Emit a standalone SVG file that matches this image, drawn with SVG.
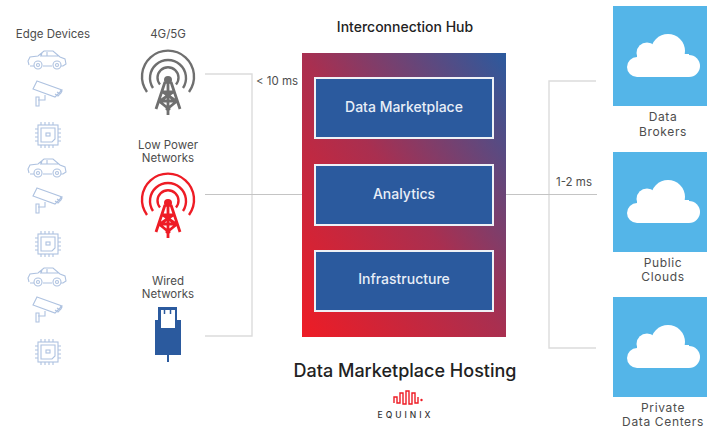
<svg xmlns="http://www.w3.org/2000/svg" width="707" height="430" viewBox="0 0 707 430">
<style>
text{font-family:"Inter","Liberation Sans",sans-serif;text-anchor:middle;fill:#4d4d4d;font-size:11.500px}
.r{font-size:12px;letter-spacing:.65px}
.w{fill:#e8eef7;font-size:14px;font-weight:500}
.c{fill:none;stroke:#dcdcdc;stroke-width:1.4}
.m{fill:none;stroke:#c4c4c4;stroke-width:1}
.d{fill:none;stroke:#aec2e0;stroke-width:1.1}
.b{fill:#2b5a9e;stroke:#eef1f6;stroke-width:2}
.s{fill:#54b5e8}
.t{font-size:14px;fill:#222;font-weight:500}
</style>
<defs>
<linearGradient id="g" x1="0" y1="1" x2="1" y2="0"><stop offset="0" stop-color="#ee1c25"/><stop offset=".5" stop-color="#a92f50"/><stop offset="1" stop-color="#2b5a9e"/></linearGradient>
<g id="car" class="d"><path d="M-18 5L-19 1-17-3-9-4-3-9H6L13-3 18-1 19 4 16 6H14M-4 6H5M-13 6H-17M-7-4H12M0-8V-4M-5-7L-6-4"/><circle cx="-9" cy="5" r="4"/><circle cx="10" cy="5" r="4"/><circle cx="-9" cy="5" r="1.500"/><circle cx="10" cy="5" r="1.500"/></g>
<g id="cam" class="d"><path d="M-10-11L15-2 8 5-14-3ZM-2 3V8H-9M-11 5H-8V14H-11ZM8 2L11 4 14 1 15-1 13-2M10 0L13 2"/></g>
<g id="chip" class="d"><rect x="-10" y="-10" width="20" height="20"/><path d="M-7-7H7V4L4 7H-7Z"/><rect x="-2" y="-2" width="4" height="3"/><path d="M-7-10V-13M-3-10V-13M1-10V-13M5-10V-13M-7 10V13M-3 10V13M1 10V13M5 10V13M-10-6H-13M-10-2H-13M-10 2H-13M-10 6H-13M10-6H13M10-2H13M10 2H13M10 6H13"/></g>
<g id="tower"><g fill="none" stroke="currentColor" stroke-width="2.400"><path d="M-21 12A26 26 0 1 1 21 12"/><path d="M-15 8A18 18 0 1 1 15 8"/><path d="M-8 4.500A10.500 10.500 0 1 1 8 4.500"/></g><g fill="none" stroke="currentColor" stroke-width="2.800"><path d="M-3 2L-12 29M3 2L12 29M-6 12H6M-9 21H9M-5 12L8 21M5 12L-8 21M-9 21L2 30M9 21L-2 30M0 3V35"/></g><circle cx="0" cy="0" r="4" fill="currentColor"/></g>
<g id="cloud" fill="#fff"><circle cx="12" cy="41" r="10"/><circle cx="22" cy="27" r="10.500"/><circle cx="43" cy="25" r="17"/><circle cx="64" cy="40" r="11"/><rect x="12" y="28" width="52" height="23"/></g>
</defs>
<g id="connectors">
<path class="c" d="M205 74H252V336H205"/>
<path class="c" d="M596 81H549V348H596"/>
<path class="m" d="M205 194.500H302M506 194.500H597"/>
</g>
<g id="edge-devices">
<text x="53" y="38">Edge Devices</text>
<use href="#car" x="47" y="60"/><use href="#cam" x="47" y="92"/><use href="#chip" x="48" y="135"/>
<use href="#car" x="47" y="168"/><use href="#cam" x="47" y="199"/><use href="#chip" x="48" y="244"/>
<use href="#car" x="47" y="277"/><use href="#cam" x="47" y="308"/><use href="#chip" x="48" y="352"/>
</g>
<g id="n4g5g"><text x="168" y="38">4G/5G</text><use href="#tower" x="168" y="80" style="color:#6f6f6f"/></g>
<g id="low-power"><text x="168" y="149">Low Power</text><text x="168" y="162">Networks</text><use href="#tower" x="168" y="203" style="color:#ee1c25"/></g>
<g id="wired"><text x="168" y="285">Wired</text><text x="168" y="298">Networks</text>
<path d="M158 307H177V320H181V355H169V362H167V355H155V320H158Z" fill="#2b5a9e"/><rect x="161" y="310" width="14" height="18" fill="#fff"/><path d="M164.500 310v4M170.500 310v4" stroke="#2b5a9e" stroke-width="1.500"/></g>
<text x="277" y="85">&lt; 10 ms</text>
<text x="574" y="186">1-2 ms</text>
<g id="hub">
<text x="405" y="32" class="t">Interconnection Hub</text>
<rect x="302" y="53" width="204" height="284" fill="url(#g)"/>
</g>
<g id="data-marketplace"><rect class="b" x="315" y="78" width="178" height="60"/><text class="w" x="404" y="112">Data Marketplace</text></g>
<g id="analytics"><rect class="b" x="315" y="165" width="178" height="60"/><text class="w" x="404" y="199">Analytics</text></g>
<g id="infrastructure"><rect class="b" x="315" y="251" width="178" height="60"/><text class="w" x="404" y="284">Infrastructure</text></g>
<text x="405" y="377" style="font-size:18px;fill:#222;font-weight:500">Data Marketplace Hosting</text>
<g id="equinix"><path d="M394 403V397H397V403H400V393H403V404H406V391H409V404H412V393H415V403H418V397" fill="none" stroke="#ee1c25" stroke-width="1.400"/><circle cx="421.500" cy="400" r="1.200" fill="#ee1c25"/><text x="405.500" y="418" style="font-size:8.500px;letter-spacing:3px;fill:#333;font-weight:500">EQUINIX</text></g>
<g id="data-brokers"><rect class="s" x="613" y="6" width="94" height="100"/><use href="#cloud" x="625" y="26"/><text class="r" x="663" y="121">Data</text><text class="r" x="663" y="135.500">Brokers</text></g>
<g id="public-clouds"><rect class="s" x="613" y="152" width="94" height="100"/><use href="#cloud" x="625" y="172"/><text class="r" x="663" y="266.500">Public</text><text class="r" x="663" y="281">Clouds</text></g>
<g id="private-dc"><rect class="s" x="613" y="297" width="94" height="100"/><use href="#cloud" x="625" y="317"/><text class="r" x="663" y="411.500">Private</text><text class="r" x="663" y="426">Data Centers</text></g>
</svg>
